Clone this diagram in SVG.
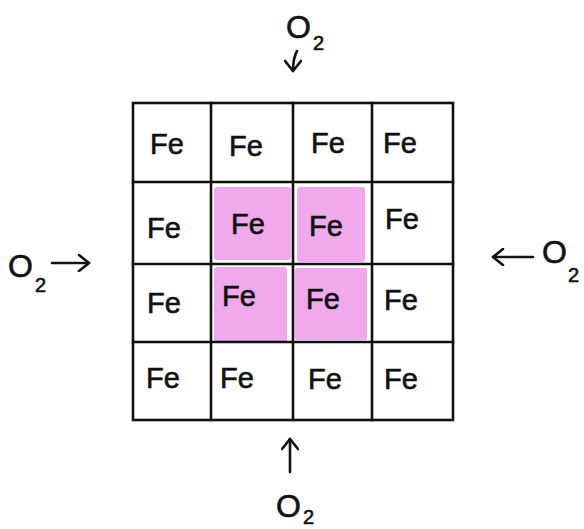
<svg xmlns="http://www.w3.org/2000/svg" width="584" height="529" viewBox="0 0 584 529">
<style>
.fe{font-family:"Liberation Sans",Arial,sans-serif;font-size:29px;fill:#111;stroke:#111;stroke-width:0.6;text-anchor:middle}
.lbl{font-family:"Liberation Sans",Arial,sans-serif;fill:#111;stroke:#111;stroke-width:0.6}
.o{font-size:32px}
.sub{font-size:20px}
.grid{stroke:#111;stroke-width:2.6;fill:none;stroke-linecap:square}
.pink{fill:#efa9ec}
.arr{stroke:#111;stroke-width:2.6;fill:none;stroke-linecap:round;marker-end:url(#head)}
</style>
<defs>
<marker id="head" markerUnits="userSpaceOnUse" markerWidth="18" markerHeight="18" refX="12" refY="9" orient="auto">
<path d="M2,1 L12,9 L2,17" stroke="#111" stroke-width="2.6" fill="none" stroke-linecap="round" stroke-linejoin="round"/>
</marker>
</defs>
<rect width="584" height="529" fill="#fff"/>
<g id="highlight">
<rect class="pink" x="214" y="187" width="77" height="73" rx="3"/>
<rect class="pink" x="297" y="187" width="68" height="75" rx="3"/>
<rect class="pink" x="214" y="267" width="73" height="75" rx="3"/>
<rect class="pink" x="295" y="268" width="72" height="72" rx="3"/>
</g>
<g id="grid" class="grid">
<rect x="133" y="103" width="320" height="317"/>
<line x1="211" y1="103" x2="211" y2="420"/>
<line x1="293" y1="103" x2="293" y2="420"/>
<line x1="372" y1="103" x2="372" y2="420"/>
<line x1="133" y1="182" x2="453" y2="182"/>
<line x1="133" y1="264" x2="453" y2="264"/>
<line x1="133" y1="342" x2="453" y2="342"/>
</g>
<g id="cell-0-0"><text class="fe" x="167" y="154">Fe</text></g>
<g id="cell-0-1"><text class="fe" x="246" y="156">Fe</text></g>
<g id="cell-0-2"><text class="fe" x="328" y="153">Fe</text></g>
<g id="cell-0-3"><text class="fe" x="400" y="153">Fe</text></g>
<g id="cell-1-0"><text class="fe" x="164" y="238">Fe</text></g>
<g id="cell-1-1"><text class="fe" x="248" y="234">Fe</text></g>
<g id="cell-1-2"><text class="fe" x="326" y="236">Fe</text></g>
<g id="cell-1-3"><text class="fe" x="402" y="229">Fe</text></g>
<g id="cell-2-0"><text class="fe" x="164" y="313">Fe</text></g>
<g id="cell-2-1"><text class="fe" x="239" y="306">Fe</text></g>
<g id="cell-2-2"><text class="fe" x="323" y="309">Fe</text></g>
<g id="cell-2-3"><text class="fe" x="401" y="310">Fe</text></g>
<g id="cell-3-0"><text class="fe" x="163" y="388">Fe</text></g>
<g id="cell-3-1"><text class="fe" x="237" y="388">Fe</text></g>
<g id="cell-3-2"><text class="fe" x="325" y="389">Fe</text></g>
<g id="cell-3-3"><text class="fe" x="401" y="389">Fe</text></g>
<g id="o2-top"><text class="lbl" x="286" y="38"><tspan class="o">O</tspan><tspan class="sub" dx="2" dy="12">2</tspan></text></g>
<g id="o2-left"><text class="lbl" x="8" y="277"><tspan class="o">O</tspan><tspan class="sub" dx="2" dy="15">2</tspan></text></g>
<g id="o2-right"><text class="lbl" x="542" y="263"><tspan class="o">O</tspan><tspan class="sub" dx="1" dy="19">2</tspan></text></g>
<g id="o2-bottom"><text class="lbl" x="276" y="517"><tspan class="o">O</tspan><tspan class="sub" dx="2" dy="7">2</tspan></text></g>
<g id="connectors">
<path class="arr" d="M297,51 Q293,58 293,71"/>
<line class="arr" x1="52" y1="263" x2="89" y2="263"/>
<line class="arr" x1="533" y1="257" x2="493" y2="257"/>
<line class="arr" x1="290" y1="472" x2="290" y2="439"/>
</g>
</svg>
